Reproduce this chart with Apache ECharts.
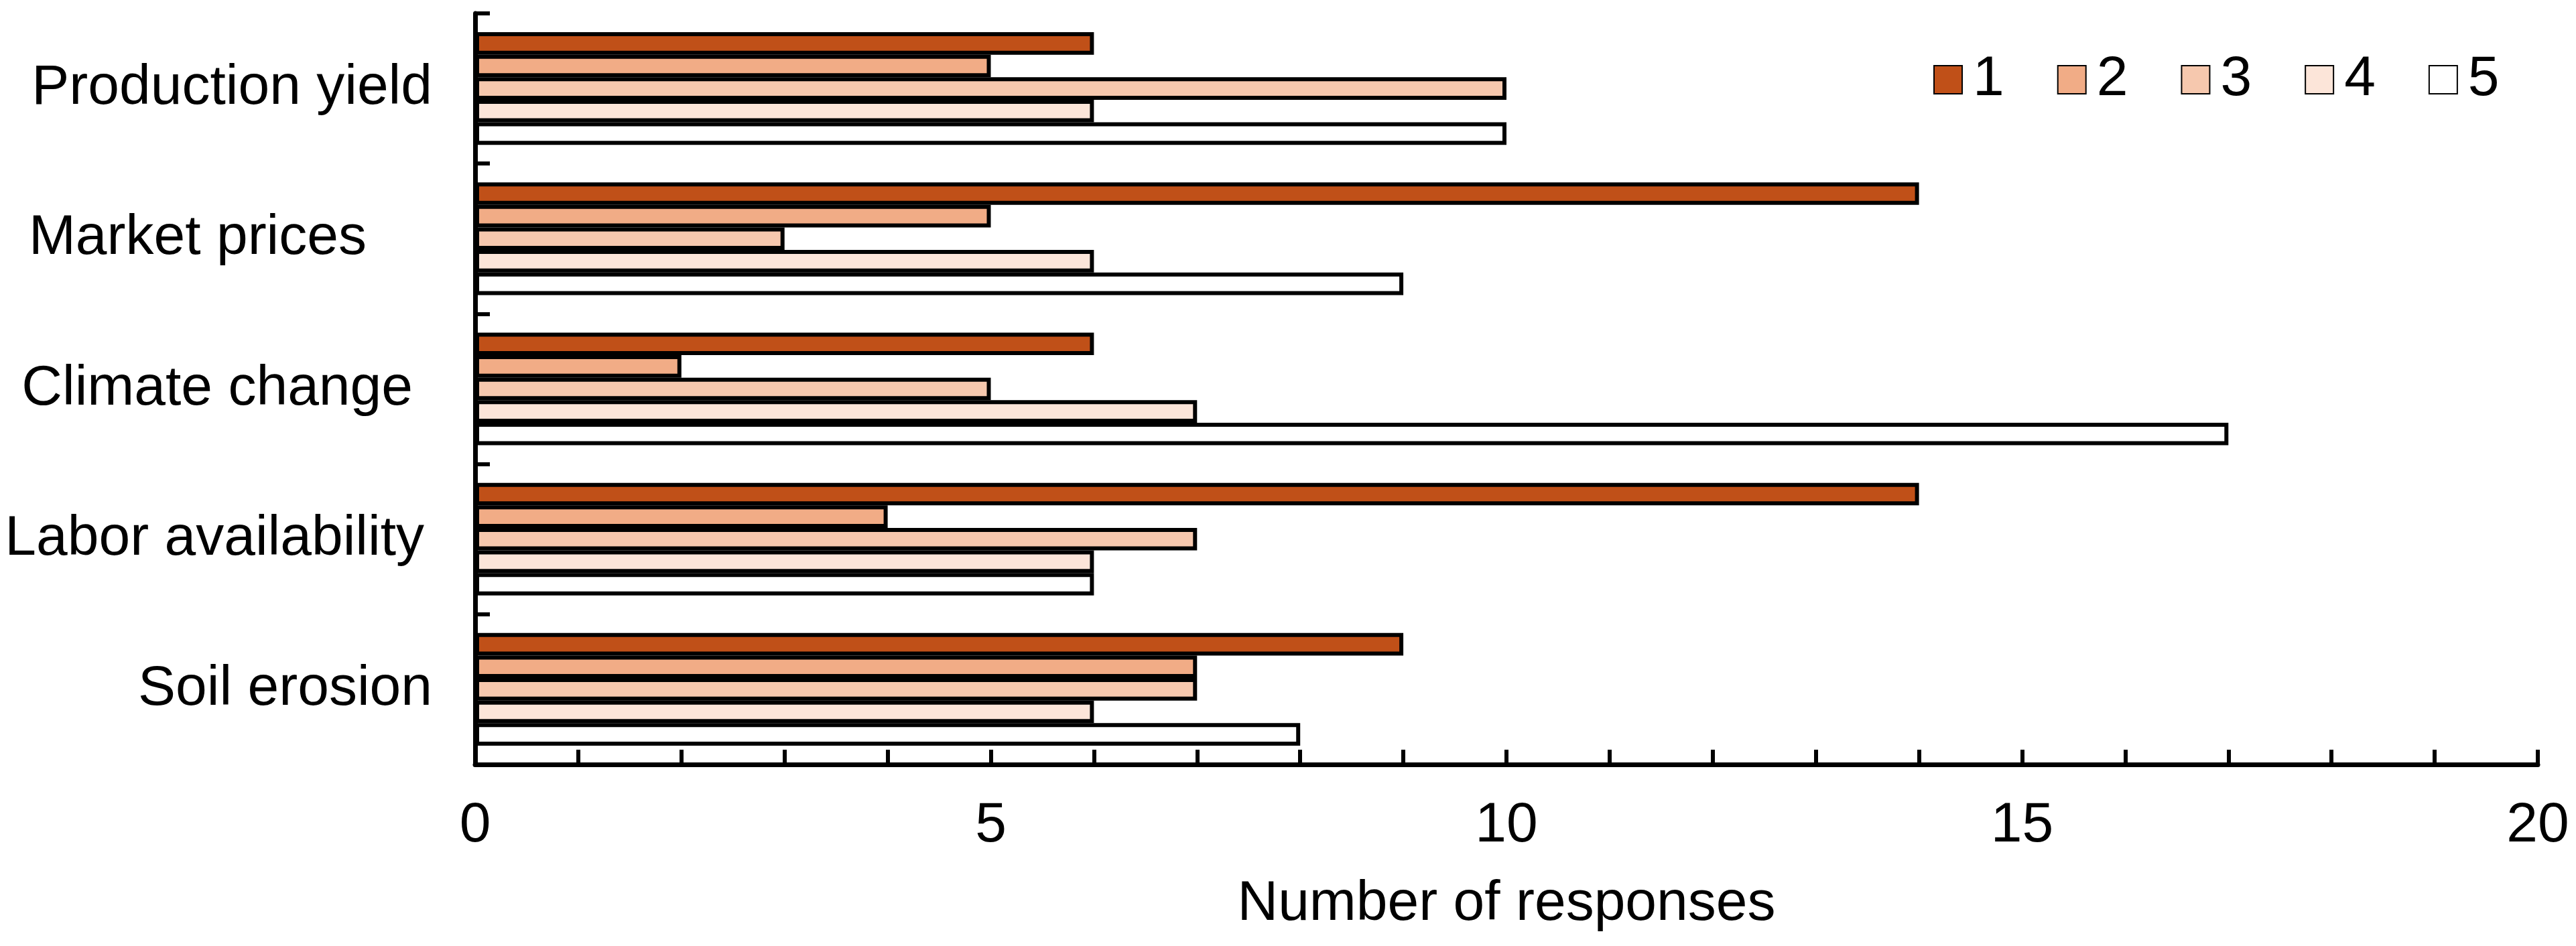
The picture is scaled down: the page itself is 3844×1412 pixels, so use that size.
<!DOCTYPE html>
<html>
<head>
<meta charset="utf-8">
<script src="https://cdn.jsdelivr.net/npm/echarts@6/dist/echarts.min.js"></script>
<style>
html,body{margin:0;padding:0;background:#fff;}
#chart{width:3844px;height:1412px;}
</style>
</head>
<body>
<div id="chart"></div>
<script>
const categories = ['Production yield', 'Market prices', 'Climate change', 'Labor availability', 'Soil erosion'];
const seriesNames = ['1', '2', '3', '4', '5'];
const values1 = [6, 14, 6, 14, 9];
const values2 = [5, 5, 2, 4, 7];
const values3 = [10, 3, 5, 7, 7];
const values4 = [6, 6, 7, 6, 6];
const values5 = [10, 9, 17, 6, 8];
const xTickLabels = [0, 5, 10, 15, 20];
const colors = ['#C05018', '#F1AC86', '#F6C8AE', '#FCE5D9', '#FFFFFF'];

const allValues = [values1, values2, values3, values4, values5];
const FONT = 'Liberation Sans, Arial, sans-serif';
const labelPadRight = [0, 98, 29, 12, 0];

const rich = {};
labelPadRight.forEach((p, i) => {
  rich['c' + i] = { fontSize: 84, fontFamily: FONT, color: '#000', padding: [0, p, 0, 0] };
});

const chart = echarts.init(document.getElementById('chart'), null, { renderer: 'canvas' });
chart.setOption({
  animation: false,
  backgroundColor: '#fff',
  textStyle: { fontFamily: FONT, color: '#000' },
  grid: { left: 709, right: 57, top: 20, bottom: 271, containLabel: false },
  legend: {
    data: seriesNames,
    left: 2880,
    top: 72,
    icon: 'rect',
    itemWidth: 42,
    itemHeight: 42,
    itemGap: 79,
    textStyle: { fontSize: 84, fontFamily: FONT, color: '#000', padding: [0, 0, 0, 11] }
  },
  xAxis: {
    type: 'value',
    min: 0,
    max: 20,
    interval: 1,
    name: 'Number of responses',
    nameLocation: 'middle',
    nameGap: 167,
    nameTextStyle: { fontSize: 84, fontFamily: FONT, color: '#000' },
    axisLine: { show: true, lineStyle: { color: '#000', width: 7 } },
    axisTick: { show: true, inside: true, length: 22, lineStyle: { color: '#000', width: 6 } },
    axisLabel: {
      fontSize: 84, fontFamily: FONT, color: '#000', margin: 50,
      formatter: v => (xTickLabels.indexOf(v) >= 0 ? String(v) : '')
    },
    splitLine: { show: false }
  },
  yAxis: {
    type: 'category',
    data: categories,
    inverse: true,
    axisLine: { show: true, lineStyle: { color: '#000', width: 7 } },
    axisTick: { show: true, inside: true, length: 22, lineStyle: { color: '#000', width: 6 } },
    axisLabel: {
      fontSize: 84, fontFamily: FONT, color: '#000', margin: 64,
      formatter: (v, i) => '{c' + i + '|' + v + '}',
      rich: rich
    },
    splitLine: { show: false }
  },
  series: seriesNames.map((n, i) => ({
    name: n,
    type: 'bar',
    data: allValues[i],
    barGap: '0%',
    barCategoryGap: '25%',
    itemStyle: { color: colors[i], borderColor: '#000', borderWidth: 6 },
    emphasis: { disabled: true }
  }))
});
</script>
</body>
</html>
